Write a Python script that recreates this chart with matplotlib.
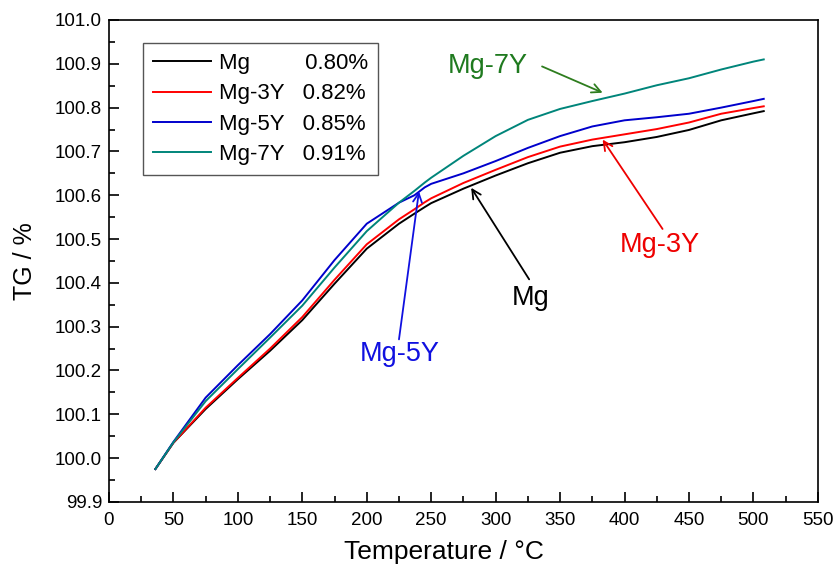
import matplotlib.pyplot as plt
from matplotlib.ticker import MultipleLocator, FormatStrFormatter

plt.rcParams["font.family"] = ['Liberation Sans', 'DejaVu Sans']

# temperature (deg C) and TG (%)
temp = [36, 50, 75, 100, 125, 150, 175, 200, 225, 237, 245, 250, 275, 300,
        325, 350, 375, 400, 425, 450, 475, 500, 508]
tg_mg = [99.975, 100.035, 100.112, 100.180, 100.245, 100.315, 100.398, 100.478, 100.535, 100.558,
         100.573, 100.582, 100.615, 100.645, 100.673, 100.697, 100.712, 100.721, 100.733, 100.749,
         100.771, 100.787, 100.792]
tg_3y = [99.975, 100.035, 100.115, 100.183, 100.250, 100.322, 100.407, 100.488, 100.545, 100.568,
         100.584, 100.593, 100.628, 100.658, 100.687, 100.711, 100.727, 100.739, 100.751, 100.766,
         100.786, 100.799, 100.803]
tg_5y = [99.975, 100.037, 100.138, 100.212, 100.283, 100.360, 100.452, 100.535, 100.583, 100.600,
         100.618, 100.626, 100.650, 100.678, 100.708, 100.735, 100.757, 100.771, 100.778, 100.786,
         100.800, 100.815, 100.820]
tg_7y = [99.975, 100.036, 100.130, 100.203, 100.275, 100.348, 100.435, 100.518, 100.583, 100.610,
         100.629, 100.640, 100.690, 100.735, 100.772, 100.797, 100.815, 100.832, 100.851, 100.867,
         100.887, 100.905, 100.910]

names = ['Mg', 'Mg-3Y', 'Mg-5Y', 'Mg-7Y']
gains = ['0.80%', '0.82%', '0.85%', '0.91%']
colors = ['#000000', '#ff0000', '#0000cc', '#00857a']

fig = plt.figure(figsize=(8.35, 5.71), dpi=100)
ax = fig.add_axes([0.1305, 0.121, 0.849, 0.844])

labels = [names[0] + ' ' * 9 + gains[0]] + [n + '   ' + g for n, g in zip(names[1:], gains[1:])]
for y, c, lab in zip([tg_mg, tg_3y, tg_5y, tg_7y], colors, labels):
    ax.plot(temp, y, color=c, lw=1.4, label=lab)

ax.set_xlim(0, 550)
ax.set_ylim(99.9, 101.0)
ax.xaxis.set_major_locator(MultipleLocator(50))
ax.xaxis.set_minor_locator(MultipleLocator(25))
ax.yaxis.set_major_locator(MultipleLocator(0.1))
ax.yaxis.set_minor_locator(MultipleLocator(0.05))
ax.yaxis.set_major_formatter(FormatStrFormatter('%.1f'))
ax.tick_params(which='both', direction='in', top=False, right=False, labelsize=13.5, width=1.2)
ax.tick_params(which='major', length=7)
ax.tick_params(which='minor', length=4.5)
ax.tick_params(axis='x', pad=7)
ax.tick_params(axis='y', pad=5)
for s in ax.spines.values():
    s.set_linewidth(1.2)

ax.set_xlabel('Temperature / °C', fontsize=19)
ax.xaxis.set_label_coords(0.472, -0.08)
ax.set_ylabel('TG / %', fontsize=18)
ax.yaxis.set_label_coords(-0.102, 0.5)

leg = ax.legend(loc='upper left', bbox_to_anchor=(0.048, 0.952), borderaxespad=0,
                fontsize=16, handlelength=2.6, handletextpad=0.37, borderpad=0.45,
                labelspacing=0.42, fancybox=False, framealpha=1)
leg.get_frame().set_edgecolor('#555555')
leg.get_frame().set_linewidth(1.0)

# annotations with arrows
ann = dict(arrowstyle='->', lw=1.3, shrinkA=0, shrinkB=0, mutation_scale=16)
ax.annotate('', xy=(383, 100.834), xytext=(336, 100.894), arrowprops=dict(ann, color='#2e7d1e'))
ax.text(294, 100.894, 'Mg-7Y', color='#1f7a1f', fontsize=19.5, ha='center', va='center')

ax.annotate('', xy=(383, 100.727), xytext=(429.5, 100.523), arrowprops=dict(ann, color='#ee0000'))
ax.text(427, 100.487, 'Mg-3Y', color='#ee0000', fontsize=19.5, ha='center', va='center')

ax.annotate('', xy=(281, 100.617), xytext=(326, 100.408), arrowprops=dict(ann, color='#000000'))
ax.text(327, 100.365, 'Mg', color='#000000', fontsize=19.5, ha='center', va='center')

ax.annotate('', xy=(240.5, 100.609), xytext=(225, 100.271), arrowprops=dict(ann, color='#1010e0'))
ax.text(225.6, 100.237, 'Mg-5Y', color='#1010e0', fontsize=19.5, ha='center', va='center')

fig.savefig('out.png', dpi=100)
